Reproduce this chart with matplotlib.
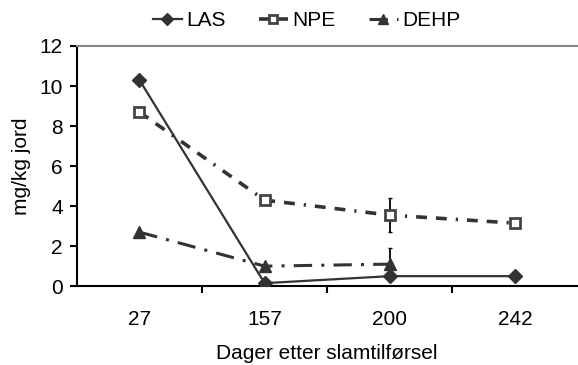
import matplotlib.pyplot as plt
import numpy as np

plt.rcParams['font.family'] = ['Liberation Sans', 'DejaVu Sans']

days = ['27', '157', '200', '242']
las = [10.3, 0.15, 0.5, 0.5]
npe = [8.7, 4.3, 3.55, 3.15]
dehp = [2.7, 1.0, 1.1]
npe_err = [0, 0, 0.85, 0]
dehp_err_up = [0, 0, 0.8]

col = '#333333'
fs = 15
x = np.arange(len(days))

fig = plt.figure(figsize=(5.78, 3.65), dpi=100)
ax = fig.add_axes([0.133, 0.216, 0.866, 0.658])

ax.plot(x, las, color=col, lw=1.6, marker='D', ms=7, label='LAS', zorder=3)
ax.plot(x, npe, color=col, lw=2.6, ls=(0, (3, 2.5, 3, 2.5, 0.6, 2.5)), marker='s', ms=7.5,
        mfc='white', mec='#444444', mew=2, label='NPE', zorder=3)
ax.plot(x[:3], dehp, color=col, lw=2.2, ls=(0, (6, 3, 1, 3)), marker='^', ms=9,
        label='DEHP', zorder=3)

ax.errorbar(x[2], npe[2], yerr=npe_err[2], fmt='none', ecolor='black',
            elinewidth=1.3, capsize=1.5, zorder=2)
ax.errorbar(x[2], dehp[2], yerr=[[0], [dehp_err_up[2]]], fmt='none',
            ecolor='black', elinewidth=1.3, capsize=1.5, zorder=2)

ax.set_xlim(-0.5, len(days) - 0.5)
ax.set_ylim(0, 12)
ax.set_yticks(range(0, 13, 2))
ax.set_xticks(x)
ax.set_xticklabels(days)
ax.set_xticks(x[:-1] + 0.5, minor=True)
ax.tick_params(axis='x', which='major', length=0, pad=17, labelsize=fs)
ax.tick_params(axis='x', which='minor', length=5, width=1.5, direction='out')
ax.tick_params(axis='y', length=5, width=1.5, direction='out', labelsize=fs, pad=5)

ax.spines['right'].set_visible(False)
ax.spines['top'].set_color('#888888')
ax.spines['top'].set_linewidth(1.5)
ax.spines['left'].set_linewidth(1.5)
ax.spines['bottom'].set_linewidth(1.5)

ax.set_ylabel('mg/kg jord', fontsize=fs, labelpad=6)
ax.set_xlabel('Dager etter slamtilførsel', fontsize=fs, labelpad=11)

fig.legend(loc='upper center', bbox_to_anchor=(0.53, 1.02), ncol=3, frameon=False,
           fontsize=fs, handlelength=1.4, handletextpad=0.2, columnspacing=1.6,
           markerscale=0.85)

fig.savefig('out.png', dpi=100)
